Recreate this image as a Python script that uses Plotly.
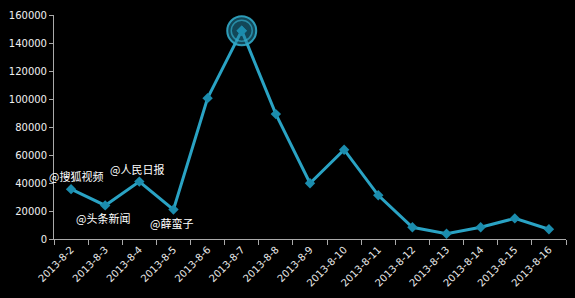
import plotly.graph_objects as go

dates = ["2013-8-2", "2013-8-3", "2013-8-4", "2013-8-5", "2013-8-6", "2013-8-7",
         "2013-8-8", "2013-8-9", "2013-8-10", "2013-8-11", "2013-8-12", "2013-8-13",
         "2013-8-14", "2013-8-15", "2013-8-16"]
values = [35600, 24000, 41000, 21000, 100600, 148800, 89200, 39800, 63800, 31200,
          8400, 3700, 8400, 14700, 7000]
y_ticks = [0, 20000, 40000, 60000, 80000, 100000, 120000, 140000, 160000]

label_dates = ["2013-8-2", "2013-8-3", "2013-8-4", "2013-8-5"]
label_texts = ["@搜狐视频", "@头条新闻", "@人民日报", "@薛蛮子"]
label_above = [True, False, True, False]

LINE = "#2aa3c4"
MARK = "#1b8cad"

fig = go.Figure()
fig.add_trace(go.Scatter(
    x=dates, y=values, mode="lines+markers",
    line=dict(color=LINE, width=3),
    marker=dict(symbol="diamond", size=8, color=MARK),
    hoverinfo="x+y", showlegend=False,
))

imax = values.index(max(values))
fig.add_trace(go.Scatter(
    x=[dates[imax]], y=[values[imax]], mode="markers",
    marker=dict(size=29, color="rgba(32,130,160,0.55)",
                line=dict(color="rgba(50,170,200,0.9)", width=2)),
    hoverinfo="skip", showlegend=False,
))
fig.add_trace(go.Scatter(
    x=[dates[imax]], y=[values[imax]], mode="markers",
    marker=dict(size=21, color="rgba(0,0,0,0)",
                line=dict(color="rgba(50,170,200,0.7)", width=1.5)),
    hoverinfo="skip", showlegend=False,
))
fig.add_trace(go.Scatter(
    x=[dates[imax]], y=[values[imax]], mode="markers",
    marker=dict(symbol="diamond", size=8, color=MARK),
    hoverinfo="skip", showlegend=False,
))

for i, (d, t, above) in enumerate(zip(label_dates, label_texts, label_above)):
    fig.add_annotation(
        x=d, y=values[dates.index(d)], xref="x", yref="y", text=t,
        showarrow=False, yshift=13 if above else -13, xshift=5 if i == 0 else -2,
        font=dict(color="#ffffff", size=11, family="Noto Sans CJK SC"),
    )

fig.update_layout(
    width=575, height=298,
    margin=dict(l=51, r=9, t=13, b=56),
    paper_bgcolor="#000000", plot_bgcolor="#000000",
    font=dict(family="DejaVu Sans", color="#ffffff", size=10),
    xaxis=dict(
        type="category", categoryorder="array", categoryarray=dates,
        tickangle=-45, ticks="outside", tickson="boundaries", ticklen=5,
        tickcolor="#aaaaaa", showline=True, linecolor="#aaaaaa", linewidth=1,
        showgrid=False, zeroline=False, tickfont=dict(size=10, color="#e8e8e8"),
        range=[-0.5, len(dates) - 0.5],
    ),
    yaxis=dict(
        range=[0, 160000], tickvals=y_ticks, ticktext=[str(v) for v in y_ticks],
        ticks="outside", ticklen=4, tickcolor="#aaaaaa",
        showline=True, linecolor="#aaaaaa", linewidth=1,
        showgrid=False, zeroline=False, tickfont=dict(size=10, color="#f0f0f0"),
    ),
)

fig.write_html("out.html")
